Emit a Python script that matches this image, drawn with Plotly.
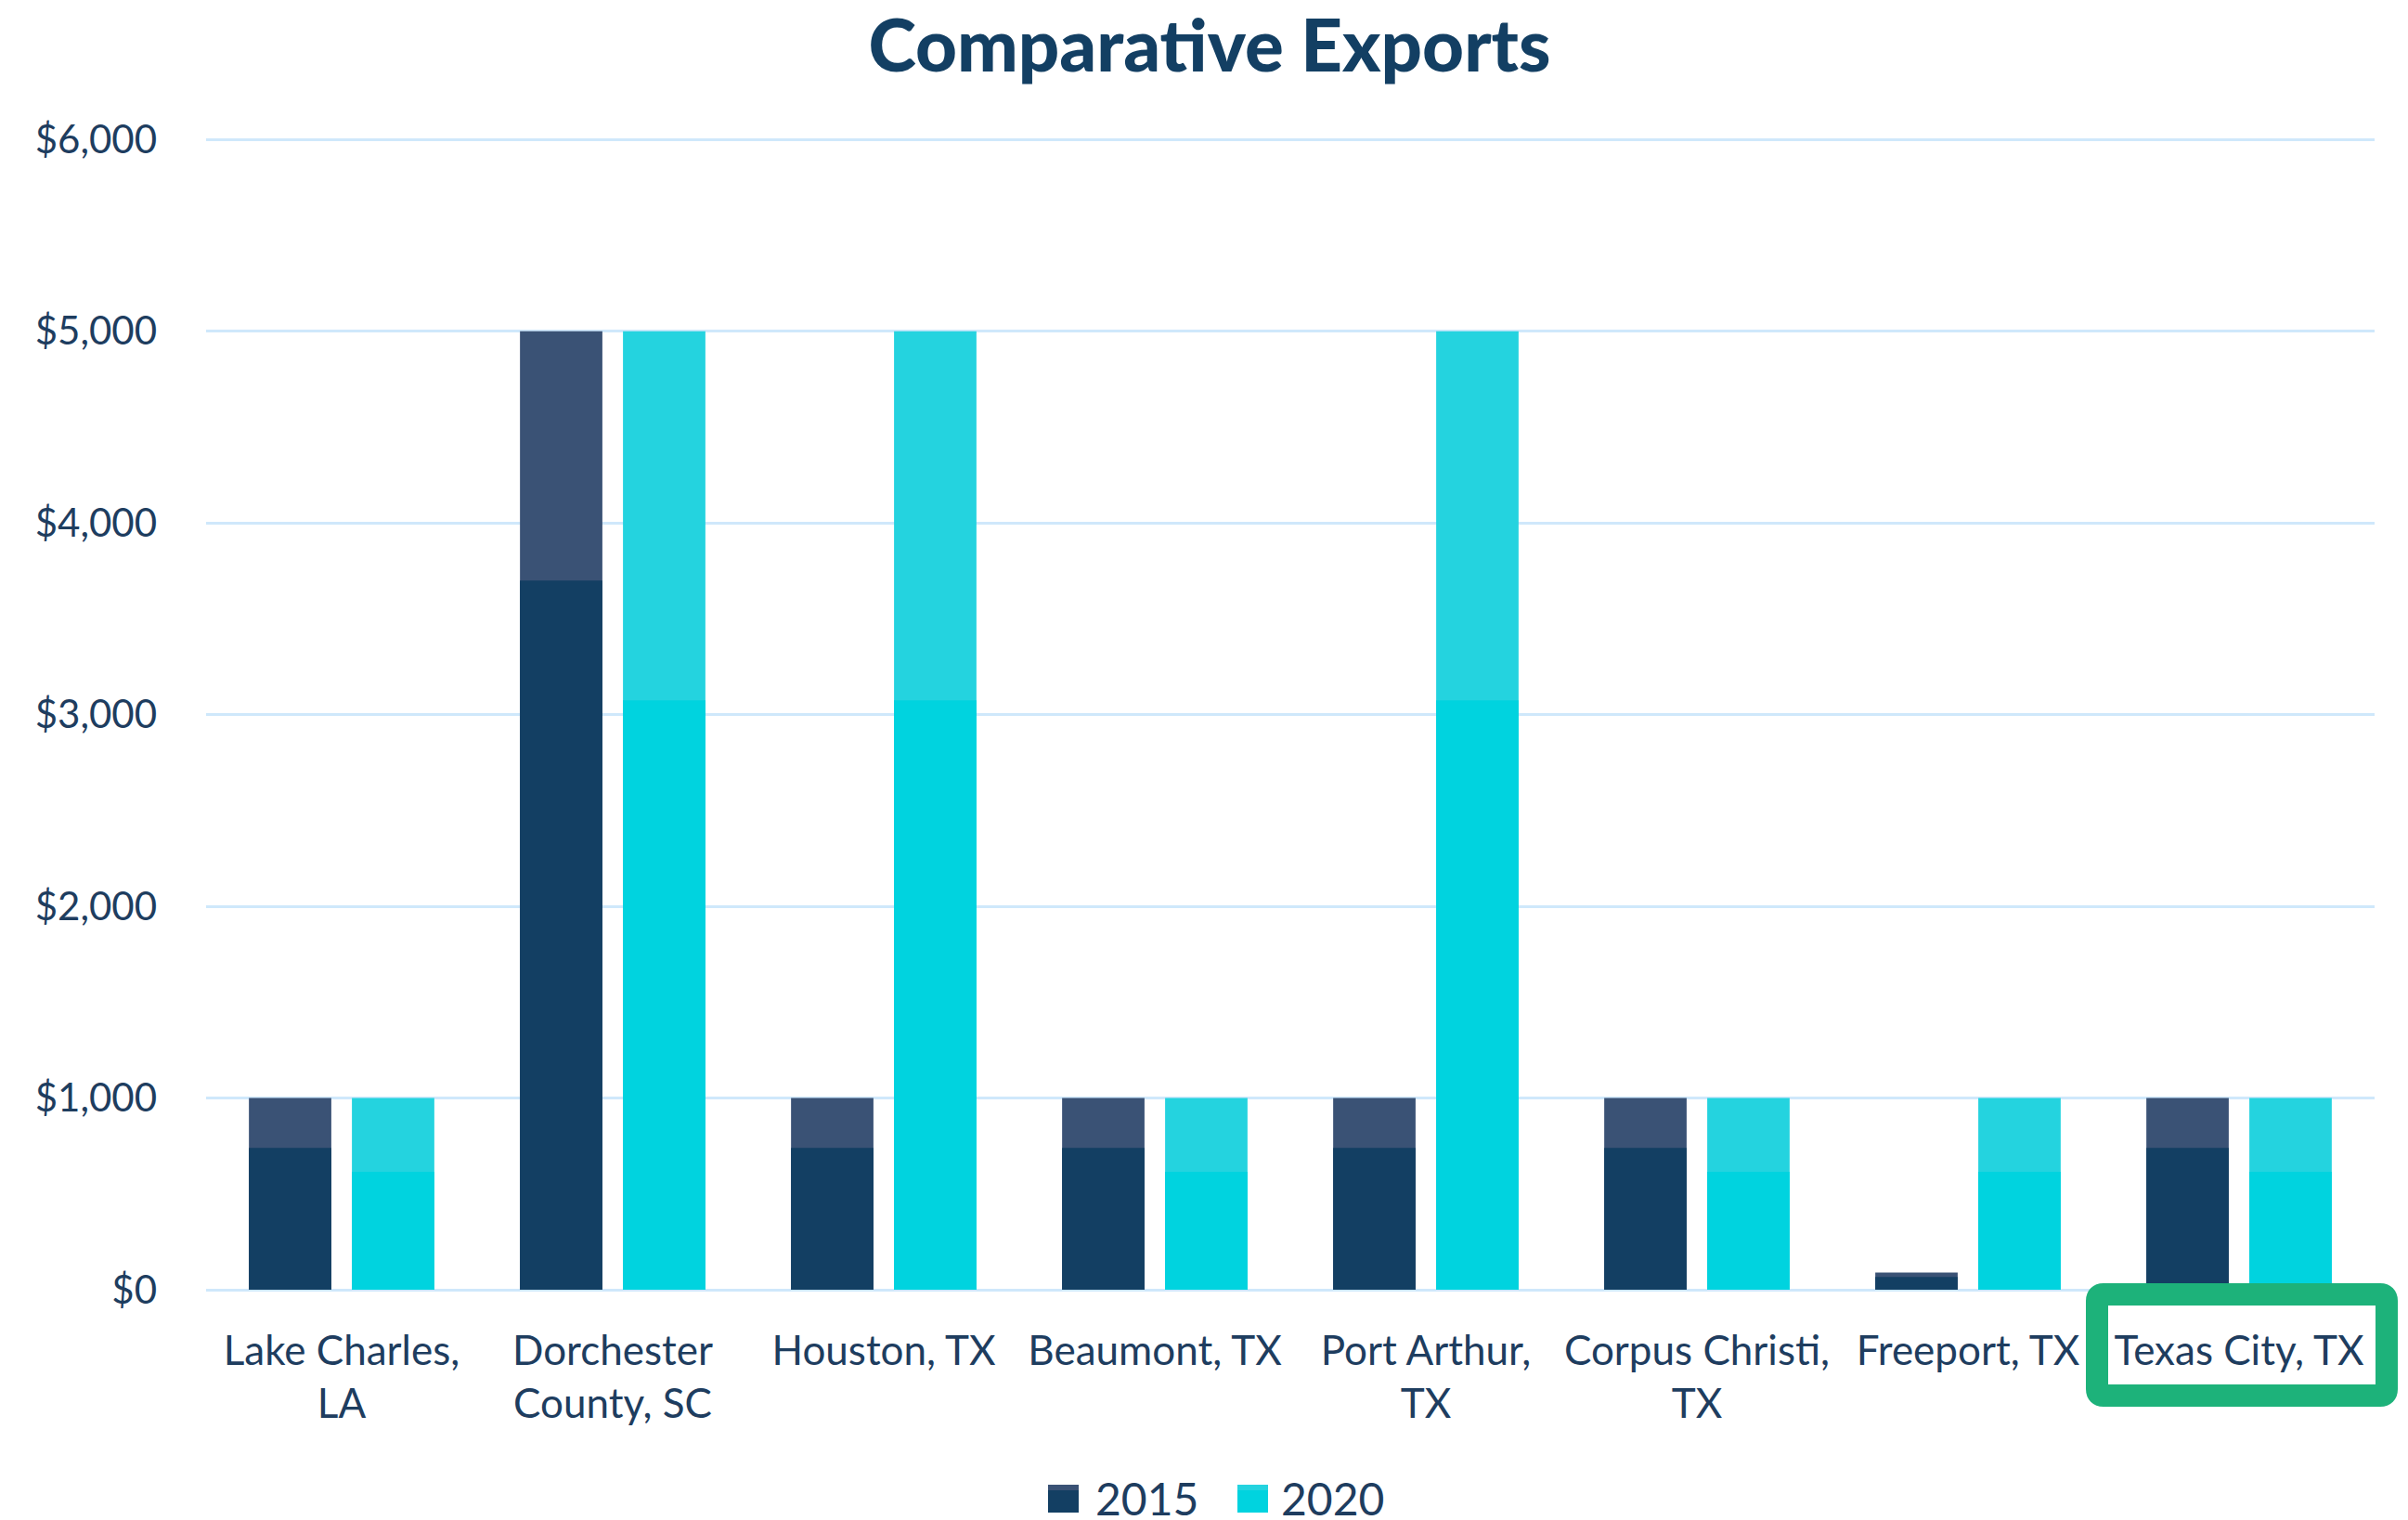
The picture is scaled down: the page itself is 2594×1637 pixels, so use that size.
import plotly.graph_objects as go

# data
ports = [
    "Lake Charles,<br>LA",
    "Dorchester<br>County, SC",
    "Houston, TX",
    "Beaumont, TX",
    "Port Arthur,<br>TX",
    "Corpus Christi,<br>TX",
    "Freeport, TX",
    "Texas City, TX",
]
exports_2015 = [1000, 5000, 1000, 1000, 1000, 1000, 90, 1000]
exports_2020 = [1000, 5000, 5000, 1000, 5000, 1000, 1000, 1000]
y_ticks = [0, 1000, 2000, 3000, 4000, 5000, 6000]
y_tick_text = ["$0", "$1,000", "$2,000", "$3,000", "$4,000", "$5,000", "$6,000"]

# styling (page pixels; the page body has an 8px margin)
OFF = 8
W, H = 2594 - OFF, 1637 - OFF
PLOT_L, PLOT_R, PLOT_B = 222 - OFF, 2558 - OFF, 1389 - OFF
Y_TOP = 6050
PX_PER_UNIT = 1239 / 6000
ML, MR, MB = PLOT_L, W - PLOT_R, H - PLOT_B
MT = round(PLOT_B - Y_TOP * PX_PER_UNIT)
DARK_2015, LIGHT_2015 = "#133F63", "#3A5275"
DARK_2020, LIGHT_2020 = "#00D3DF", "#24D3DF"
SHADE_2015 = 0.74   # share of each bar drawn in the deeper tone
SHADE_2020 = 0.615
TEXT = "#1E3D5F"
GRID = "#CFE8FB"
GREEN = "#1DB27A"
FONT = "Lato"

PW, PH = W - ML - MR, H - MT - MB


def px(x, y):
    # page pixel -> paper coordinates
    return (x - OFF - ML) / PW, (H - MB - (y - OFF)) / PH


fig = go.Figure()
for name, vals, dark, light, shade in [
    ("2015", exports_2015, DARK_2015, LIGHT_2015, SHADE_2015),
    ("2020", exports_2020, DARK_2020, LIGHT_2020, SHADE_2020),
]:
    fig.add_trace(go.Bar(x=ports, y=vals, name=name, offsetgroup=name,
                         marker=dict(color=light, line=dict(width=0)),
                         showlegend=False))
    fig.add_trace(go.Bar(x=ports, y=[v * shade for v in vals], name=name,
                         offsetgroup=name,
                         marker=dict(color=dark, line=dict(width=0)),
                         showlegend=False, hoverinfo="skip"))

# custom legend (large two-tone squares)
shapes = []
annotations = []
for name, dark, light, x0, tx in [("2015", DARK_2015, LIGHT_2015, 1129, 1179),
                                  ("2020", DARK_2020, LIGHT_2020, 1333, 1379)]:
    a0, b0 = px(x0, 1629)
    a1, b1 = px(x0 + 33, 1599)
    _, bm = px(x0, 1605)
    shapes.append(dict(type="rect", xref="paper", yref="paper", x0=a0, x1=a1,
                       y0=b0, y1=b1, fillcolor=dark, line=dict(width=0)))
    shapes.append(dict(type="rect", xref="paper", yref="paper", x0=a0, x1=a1,
                       y0=bm, y1=b1, fillcolor=light, line=dict(width=0)))
    ax, ay = px(tx, 1613)
    annotations.append(dict(text=name, xref="paper", yref="paper", x=ax, y=ay,
                            xanchor="left", yanchor="middle", showarrow=False,
                            borderpad=0,
                            font=dict(family=FONT, size=48, color=TEXT)))

# green highlight around the Texas City label
r = 7
X0, Y0 = px(2259, 1394)
X1, Y1 = px(2571, 1503)
rx, ry = r / PW, r / PH
path = (f"M{X0 + rx},{Y0} L{X1 - rx},{Y0} Q{X1},{Y0} {X1},{Y0 - ry} "
        f"L{X1},{Y1 + ry} Q{X1},{Y1} {X1 - rx},{Y1} L{X0 + rx},{Y1} "
        f"Q{X0},{Y1} {X0},{Y1 + ry} L{X0},{Y0 - ry} Q{X0},{Y0} {X0 + rx},{Y0} Z")
shapes.append(dict(type="path", xref="paper", yref="paper", path=path,
                   line=dict(color=GREEN, width=24)))

fig.update_layout(
    width=W, height=H,
    margin=dict(l=ML, r=MR, t=MT, b=MB),
    paper_bgcolor="white", plot_bgcolor="white",
    barmode="group", bargap=0.24, bargroupgap=0.2,
    title=dict(text="Comparative Exports", x=(1303 - OFF) / W, xref="container",
               xanchor="center", y=1 - 42 / H, yref="container", yanchor="middle",
               font=dict(family=FONT, size=78, weight=900, color="#133F63")),
    font=dict(family=FONT, color=TEXT),
    showlegend=False,
    shapes=shapes,
    annotations=annotations,
)
fig.update_yaxes(range=[0, Y_TOP], tickvals=y_ticks, ticktext=y_tick_text,
                 showgrid=True, gridcolor=GRID, gridwidth=3,
                 zeroline=True, zerolinecolor=GRID, zerolinewidth=3,
                 showline=False, ticks="", ticklabelstandoff=52,
                 tickfont=dict(family=FONT, size=42, color=TEXT))
fig.update_xaxes(showline=False, ticks="", ticklabelstandoff=36,
                 tickfont=dict(family=FONT, size=44, color=TEXT))

fig.write_html("out.html")
